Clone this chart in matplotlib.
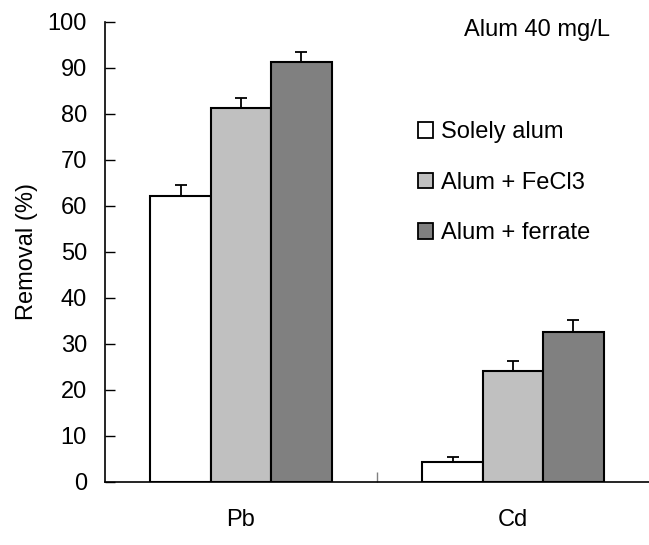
import numpy as np
import matplotlib.pyplot as plt
from matplotlib.patches import Patch

plt.rcParams['font.family'] = ['Liberation Sans', 'DejaVu Sans']

# data
metals = ['Pb', 'Cd']
series = ['Solely alum', 'Alum + FeCl3', 'Alum + ferrate']
colors = ['white', '#c0c0c0', '#808080']
removal = [[62.2, 4.3],
           [81.2, 24.1],
           [91.2, 32.5]]
errors = [[2.4, 1.2],
          [2.2, 2.2],
          [2.2, 2.7]]

fs = 17
fig = plt.figure(figsize=(6.49, 5.45), dpi=100)
ax = fig.add_axes([105 / 649, 63 / 545, 544 / 649, 460 / 545])

x = np.arange(len(metals)) + 0.5
w = 0.222
for i, name in enumerate(series):
    pos = x + (i - 1) * w
    ax.bar(pos, removal[i], w, color=colors[i], edgecolor='black', linewidth=1.5, label=name, zorder=2)
    ax.errorbar(pos, removal[i], yerr=[np.zeros(len(metals)), errors[i]], fmt='none',
                ecolor='black', elinewidth=1.3, capsize=4, capthick=1.3, zorder=1)

ax.set_xlim(0, 2)
ax.set_ylim(0, 100)
ax.set_yticks(np.arange(0, 101, 10))
ax.tick_params(axis='y', direction='in', length=7, width=1, labelsize=fs, pad=13)
ax.set_xticks([1])
ax.set_xticklabels([''])
ax.tick_params(axis='x', direction='in', length=7, width=1, color='gray')
for xc, m in zip(x, metals):
    ax.text(xc, -0.083, m, transform=ax.get_xaxis_transform(), ha='center', va='center', fontsize=fs)

ax.spines['top'].set_visible(False)
ax.spines['right'].set_visible(False)
ax.spines['left'].set_linewidth(1.2)
ax.spines['bottom'].set_linewidth(1.2)

ax.set_ylabel('Removal (%)', fontsize=fs, labelpad=7)

ax.text(0.794, 0.983, 'Alum 40 mg/L', transform=ax.transAxes, ha='center', va='center', fontsize=fs)

handles = [Patch(facecolor=c, edgecolor='black', linewidth=1.3) for c in colors]
ax.legend(handles, series, loc='upper left', bbox_to_anchor=(0.575, 0.784), frameon=False,
          fontsize=fs, handlelength=0.65, handleheight=0.65, handletextpad=0.35,
          labelspacing=1.2, borderaxespad=0, borderpad=0)

fig.savefig('out.png', dpi=100)
